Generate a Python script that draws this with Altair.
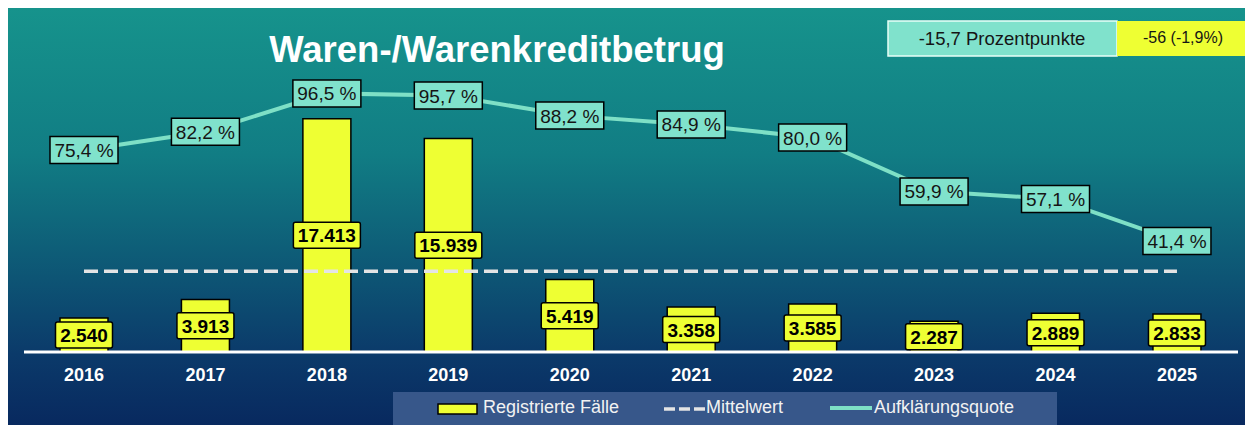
import altair as alt
import pandas as pd

# ---- data ----
years = [2016, 2017, 2018, 2019, 2020, 2021, 2022, 2023, 2024, 2025]
cases = [2540, 3913, 17413, 15939, 5419, 3358, 3585, 2287, 2889, 2833]
quote = [75.4, 82.2, 96.5, 95.7, 88.2, 84.9, 80.0, 59.9, 57.1, 41.4]
title_text = "Waren-/Warenkreditbetrug"
kpi_quote = "-15,7 Prozentpunkte"
kpi_cases = "-56 (-1,9%)"
legend_labels = ["Registrierte Fälle", "Mittelwert", "Aufklärungsquote"]


def de_int(v):
    return f"{v:,}".replace(",", ".")


def de_pct(v):
    return f"{v:.1f}".replace(".", ",") + " %"


df = pd.DataFrame({
    "year": years,
    "cases": cases,
    "quote": quote,
    "case_label": [de_int(v) for v in cases],
    "quote_label": [de_pct(v) for v in quote],
})
mean_df = pd.DataFrame({"x0": [min(years)], "x1": [max(years)], "mean": [sum(cases) / len(cases)]})
one = pd.DataFrame({"k": [0]})

W, H = 1237, 417
FONT = "Liberation Sans"
YELLOW = "#EEFF33"
TEAL = "#80E2CC"
LINE = "#7EE0C6"

# pixel geometry of the plot (scales span the whole canvas)
px_per_year = 121.44
x0_px = 76
xdom = [2016 - x0_px / px_per_year, 2016 + (W - x0_px) / px_per_year]
base_px, top_px = 344, 76
span = base_px - top_px
ydom_c = [-(H - base_px) / span * 20000, 20000 + top_px / span * 20000]
ydom_q = [v / 200 for v in ydom_c]

xs = alt.Scale(domain=xdom, nice=False, zero=False)
ycs = alt.Scale(domain=ydom_c, nice=False, zero=False)
yqs = alt.Scale(domain=ydom_q, nice=False, zero=False)

bar_half = 24 / px_per_year
box_h_c = 13 / span * 20000
box_h_q = 13.5 / span * 100
qbox_half = 34 / px_per_year

bg = alt.Chart(one).mark_rect(
    fill=alt.Gradient(
        gradient="linear", x1=0, x2=0, y1=0, y2=1,
        stops=[
            alt.GradientStop(offset=0, color="#16938C"),
            alt.GradientStop(offset=0.35, color="#117D84"),
            alt.GradientStop(offset=0.65, color="#0D5474"),
            alt.GradientStop(offset=0.83, color="#0B3A6A"),
            alt.GradientStop(offset=1, color="#08295F"),
        ],
    )
).encode(x=alt.value(0), x2=alt.value(W), y=alt.value(0), y2=alt.value(H))

bars = alt.Chart(df).transform_calculate(
    xa=f"datum.year - {bar_half}", xb=f"datum.year + {bar_half}"
).mark_rect(fill=YELLOW, stroke="black", strokeWidth=1.5).encode(
    x=alt.X("xa:Q", scale=xs, axis=None),
    x2="xb:Q",
    y=alt.Y("cases:Q", scale=ycs, axis=None),
    y2=alt.datum(0),
)

axis_line = alt.Chart(one).mark_rule(color="white", strokeWidth=3).encode(
    x=alt.value(16), x2=alt.value(1230), y=alt.value(base_px)
)

mean_rule = alt.Chart(mean_df).mark_rule(
    color="#E4E4E4", strokeWidth=3.5, strokeDash=[14, 6]
).encode(
    x=alt.X("x0:Q", scale=xs, axis=None),
    x2="x1:Q",
    y=alt.Y("mean:Q", scale=ycs, axis=None),
)

cbox = alt.Chart(df).transform_calculate(
    xa=f"datum.year - (10*length(datum.case_label)+7)/2/{px_per_year}",
    xb=f"datum.year + (10*length(datum.case_label)+7)/2/{px_per_year}",
    ya=f"datum.cases/2 - {box_h_c}",
    yb=f"datum.cases/2 + {box_h_c}",
).mark_rect(fill=YELLOW, stroke="black", strokeWidth=1.5, cornerRadius=2).encode(
    x=alt.X("xa:Q", scale=xs, axis=None),
    x2="xb:Q",
    y=alt.Y("ya:Q", scale=ycs, axis=None),
    y2="yb:Q",
)

ctext = alt.Chart(df).transform_calculate(
    ym="datum.cases/2"
).mark_text(font=FONT, fontSize=19, fontWeight="bold", color="black",
            align="center", baseline="middle", dy=1).encode(
    x=alt.X("year:Q", scale=xs, axis=None),
    y=alt.Y("ym:Q", scale=ycs, axis=None),
    text="case_label:N",
)

qline = alt.Chart(df).mark_line(color=LINE, strokeWidth=4).encode(
    x=alt.X("year:Q", scale=xs, axis=None),
    y=alt.Y("quote:Q", scale=yqs, axis=None),
)

qbox = alt.Chart(df).transform_calculate(
    xa=f"datum.year - {qbox_half}", xb=f"datum.year + {qbox_half}",
    ya=f"datum.quote - {box_h_q}", yb=f"datum.quote + {box_h_q}",
).mark_rect(fill=TEAL, stroke="black", strokeWidth=1.5).encode(
    x=alt.X("xa:Q", scale=xs, axis=None),
    x2="xb:Q",
    y=alt.Y("ya:Q", scale=yqs, axis=None),
    y2="yb:Q",
)

qtext = alt.Chart(df).mark_text(font=FONT, fontSize=19, color="#151515",
                                align="center", baseline="middle", dy=1).encode(
    x=alt.X("year:Q", scale=xs, axis=None),
    y=alt.Y("quote:Q", scale=yqs, axis=None),
    text="quote_label:N",
)

year_text = alt.Chart(df).mark_text(font=FONT, fontSize=18, fontWeight="bold", color="white",
                                    align="center", baseline="top").encode(
    x=alt.X("year:Q", scale=xs, axis=None),
    y=alt.value(359),
    text=alt.Text("year:Q", format="d"),
)

title = alt.Chart(pd.DataFrame({"t": [title_text]})).mark_text(
    font=FONT, fontSize=36.5, fontWeight="bold", color="white", align="center", baseline="alphabetic"
).encode(x=alt.value(489), y=alt.value(54), text="t:N")

kpi1_box = alt.Chart(one).mark_rect(fill=TEAL, stroke="#E8FFF8", strokeWidth=1.5).encode(
    x=alt.value(880), x2=alt.value(1109), y=alt.value(13), y2=alt.value(48))
kpi2_box = alt.Chart(one).mark_rect(fill=YELLOW).encode(
    x=alt.value(1109), x2=alt.value(W), y=alt.value(13), y2=alt.value(48))
kpi1_text = alt.Chart(pd.DataFrame({"t": [kpi_quote]})).mark_text(
    font=FONT, fontSize=18.5, color="#151515", align="center", baseline="alphabetic"
).encode(x=alt.value(994), y=alt.value(37), text="t:N")
kpi2_text = alt.Chart(pd.DataFrame({"t": [kpi_cases]})).mark_text(
    font=FONT, fontSize=16, color="#151515", align="center", baseline="alphabetic"
).encode(x=alt.value(1175), y=alt.value(35), text="t:N")

# legend
leg_box = alt.Chart(one).mark_rect(fill="#3A5A8C", opacity=0.95).encode(
    x=alt.value(385), x2=alt.value(1049), y=alt.value(384), y2=alt.value(H))
leg_sw = alt.Chart(one).mark_rect(fill=YELLOW, stroke="black", strokeWidth=1.5).encode(
    x=alt.value(430), x2=alt.value(469), y=alt.value(396), y2=alt.value(406))
leg_dash = alt.Chart(one).mark_rule(color="#E4E4E4", strokeWidth=3.5, strokeDash=[11, 4]).encode(
    x=alt.value(656), x2=alt.value(697), y=alt.value(401))
leg_line = alt.Chart(one).mark_rule(color=LINE, strokeWidth=4).encode(
    x=alt.value(822), x2=alt.value(864), y=alt.value(400))
leg_df = pd.DataFrame({"t": legend_labels, "px": [475, 698, 866]})
leg_text = alt.Chart(leg_df).mark_text(
    font=FONT, fontSize=18, color="#F2F2F2", align="left", baseline="alphabetic"
).encode(x=alt.X("px:Q", scale=None), y=alt.value(405), text="t:N")

chart = alt.layer(
    bg, bars, axis_line, mean_rule, cbox, ctext, qline, qbox, qtext, year_text,
    title, kpi1_box, kpi2_box, kpi1_text, kpi2_text,
    leg_box, leg_sw, leg_dash, leg_line, leg_text,
).resolve_scale(y="independent", x="independent").properties(
    width=W, height=H, padding=0, autosize=alt.AutoSizeParams(type="none"),
    background="#092A5C",
).configure_view(stroke=None)

chart.save("out.html", embed_options={"renderer": "svg", "actions": False})
